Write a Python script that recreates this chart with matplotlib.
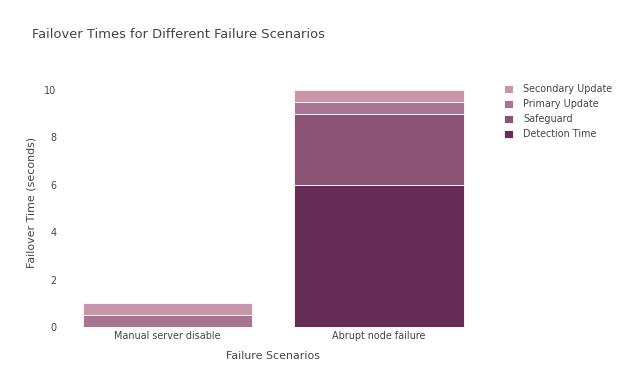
import matplotlib.pyplot as plt
import numpy as np

plt.rcParams['font.family'] = ['DejaVu Sans']

# data
scenarios = ['Manual server disable', 'Abrupt node failure']
detection_time = [0, 6]
safeguard = [0, 3]
primary_update = [0.5, 0.5]
secondary_update = [0.5, 0.5]

series = [
    ('Detection Time', detection_time, '#682d56'),
    ('Safeguard', safeguard, '#8a5273'),
    ('Primary Update', primary_update, '#a8748f'),
    ('Secondary Update', secondary_update, '#c996a8'),
]

fig = plt.figure(figsize=(6.24, 3.91), dpi=100)
ax = fig.add_axes([61.75 / 624, 1 - 327 / 391, (484.75 - 61.75) / 624, (327 - 77.5) / 391])

x = np.arange(len(scenarios))
bottom = np.zeros(len(scenarios))
handles = []
for name, vals, col in series:
    vals = np.array(vals, dtype=float)
    b = ax.bar(x, vals, width=0.8, bottom=bottom, color=col, edgecolor='white',
               linewidth=0.6, label=name)
    handles.append(b)
    bottom += vals

ax.set_xlim(-0.5, 1.5)
ax.set_ylim(0, 10.526)
ax.set_xticks(x)
ax.set_xticklabels(scenarios, fontsize=6.9, color='#444444')
ax.set_yticks([0, 2, 4, 6, 8, 10])
ax.tick_params(axis='y', labelsize=6.9, colors='#444444', length=0, pad=4)
ax.tick_params(axis='x', length=0, pad=3)
for s in ax.spines.values():
    s.set_visible(False)

ax.set_xlabel('Failure Scenarios', fontsize=7.9, color='#444444', labelpad=7)
ax.set_ylabel('Failover Time (seconds)', fontsize=7.9, color='#444444', labelpad=5)

fig.text(32 / 624, 1 - 34 / 391, 'Failover Times for Different Failure Scenarios',
         fontsize=9.4, color='#444444', va='center', ha='left')

leg = fig.legend(handles[::-1], [s[0] for s in series][::-1], loc='upper left',
                 bbox_to_anchor=(504 / 624, 1 - 84.5 / 391), frameon=False,
                 fontsize=6.9, handlelength=0.9, handleheight=0.9,
                 labelspacing=0.5, handletextpad=1.1, borderaxespad=0, borderpad=0)
for t in leg.get_texts():
    t.set_color('#444444')

fig.savefig('out.png', dpi=100)
